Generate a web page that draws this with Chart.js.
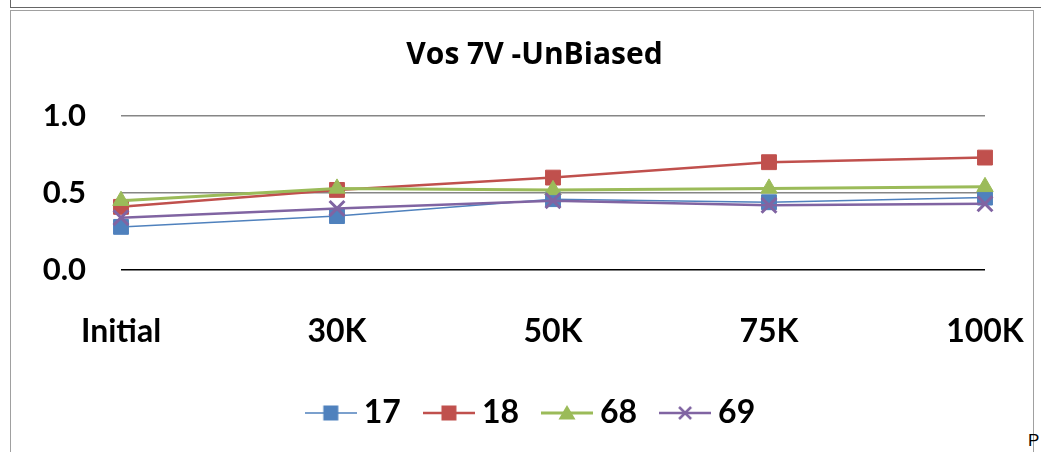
<!DOCTYPE html>
<html>
<head>
<meta charset="utf-8">
<script src="https://cdn.jsdelivr.net/npm/chart.js@4.4.0/dist/chart.umd.min.js"></script>
<style>
  html, body { margin: 0; padding: 0; background: #fff; overflow: hidden; }
  body { width: 1041px; height: 452px; position: relative; }
  .frameTop { position: absolute; left: 10px; top: -5px; width: 1040px; height: 11px; border: 1px solid #666; }
  .frameMain { position: absolute; left: 10px; top: 10px; width: 1022px; height: 460px; border: 1px solid #a0a0a0; }
  .stray { position: absolute; left: 1028px; top: 431px; font: 17px "Liberation Sans", Arial, sans-serif; color: #000; }
  #chart { position: absolute; left: 0; top: 0; }
</style>
</head>
<body>
<div class="frameTop"></div>
<div class="frameMain"></div>
<div class="stray">P</div>
<canvas id="chart" width="1041" height="452"></canvas>
<script>
// Datos
const categorias = ['Initial', '30K', '50K', '75K', '100K'];
const serie17 = [0.28, 0.35, 0.46, 0.44, 0.47];
const serie18 = [0.41, 0.52, 0.60, 0.70, 0.73];
const serie68 = [0.45, 0.53, 0.52, 0.53, 0.54];
const serie69 = [0.34, 0.40, 0.45, 0.42, 0.43];
const nombres = ['17', '18', '68', '69'];
const yTicks = [0, 0.5, 1.0];

const colores = ['#4F81BD', '#C0504D', '#9BBB59', '#8064A2'];
const estilos = ['rect', 'rect', 'triangle', 'crossRot'];
const grosores = [1.5, 2.5, 3, 2.5];

// Icono de leyenda: línea con marcador en el centro
function iconoLeyenda(color, estilo, grosor) {
    const c = document.createElement('canvas');
    c.width = 52; c.height = 20;
    const g = c.getContext('2d');
    g.strokeStyle = color;
    g.fillStyle = color;
    g.lineWidth = grosor;
    g.beginPath(); g.moveTo(0, 10); g.lineTo(52, 10); g.stroke();
    if (estilo === 'rect') {
        g.fillRect(18.5, 2.5, 15, 15);
    } else if (estilo === 'triangle') {
        g.beginPath(); g.moveTo(26, 2); g.lineTo(34.5, 16.5); g.lineTo(17.5, 16.5); g.closePath(); g.fill();
    } else {
        g.lineWidth = 2.5;
        g.beginPath();
        g.moveTo(20, 4); g.lineTo(32, 16);
        g.moveTo(32, 4); g.lineTo(20, 16);
        g.stroke();
    }
    return c;
}
const iconos = colores.map((c, i) => iconoLeyenda(c, estilos[i], grosores[i]));

const valores = [serie17, serie18, serie68, serie69];
const radios = [10.5, 10.5, 9.5, 10.5];

const ctx = document.getElementById('chart').getContext('2d');
new Chart(ctx, {
    type: 'line',
    data: {
        labels: categorias,
        datasets: valores.map((v, i) => ({
            label: nombres[i],
            data: v,
            borderColor: colores[i],
            backgroundColor: colores[i],
            borderWidth: grosores[i],
            pointStyle: estilos[i],
            pointRadius: radios[i],
            pointHoverRadius: radios[i],
            pointBackgroundColor: colores[i],
            pointBorderColor: colores[i],
            pointBorderWidth: estilos[i] === 'crossRot' ? 3 : 1,
            tension: 0,
            fill: false,
            order: 4 - i
        }))
    },
    options: {
        responsive: false,
        animation: false,
        devicePixelRatio: 1,
        layout: { padding: { left: 28, right: 0, top: 0, bottom: 13 } },
        plugins: {
            tooltip: { enabled: false },
            title: {
                display: true,
                text: 'Vos 7V -UnBiased',
                color: '#000',
                font: { family: 'Open Sans', size: 30, weight: 'bold' },
                padding: { top: 37, bottom: 43 }
            },
            legend: {
                display: true,
                position: 'bottom',
                labels: {
                    usePointStyle: true,
                    pointStyleWidth: 34,
                    padding: 31,
                    color: '#000',
                    font: { family: 'Lato', size: 32, weight: 'bold' },
                    generateLabels: (chart) => nombres.map((n, i) => ({
                        text: n,
                        pointStyle: iconos[i],
                        fillStyle: colores[i],
                        strokeStyle: colores[i],
                        lineWidth: 0,
                        hidden: false,
                        datasetIndex: i,
                        fontColor: '#000'
                    }))
                }
            }
        },
        scales: {
            x: {
                offset: false,
                // marcas invisibles para bajar las etiquetas sin ensanchar el margen lateral
                grid: { display: false, drawTicks: true, tickLength: 42 },
                border: { display: false },
                ticks: {
                    color: '#000',
                    padding: 0,
                    maxRotation: 0,
                    autoSkip: false,
                    font: { family: 'Lato', size: 32, weight: 'bold' }
                },
                afterFit: (s) => { s.height = 96; }
            },
            y: {
                min: 0,
                max: 1.0,
                grid: {
                    drawTicks: false,
                    lineWidth: 1.5,
                    color: (c) => (c.tick && c.tick.value === 0 ? '#000' : '#868686')
                },
                border: { display: false },
                afterBuildTicks: (s) => { s.ticks = yTicks.map(v => ({ value: v })); },
                ticks: {
                    color: '#000',
                    padding: 35,
                    font: { family: 'Lato', size: 31, weight: 'bold' },
                    callback: (v) => Number(v).toFixed(1)
                },
                afterFit: (s) => { s.width = 93; }
            },
            y2: {
                position: 'right',
                display: true,
                grid: { display: false, drawTicks: false },
                border: { display: false },
                ticks: { display: false },
                afterFit: (s) => { s.width = 56; }
            }
        }
    }
});
</script>
</body>
</html>
